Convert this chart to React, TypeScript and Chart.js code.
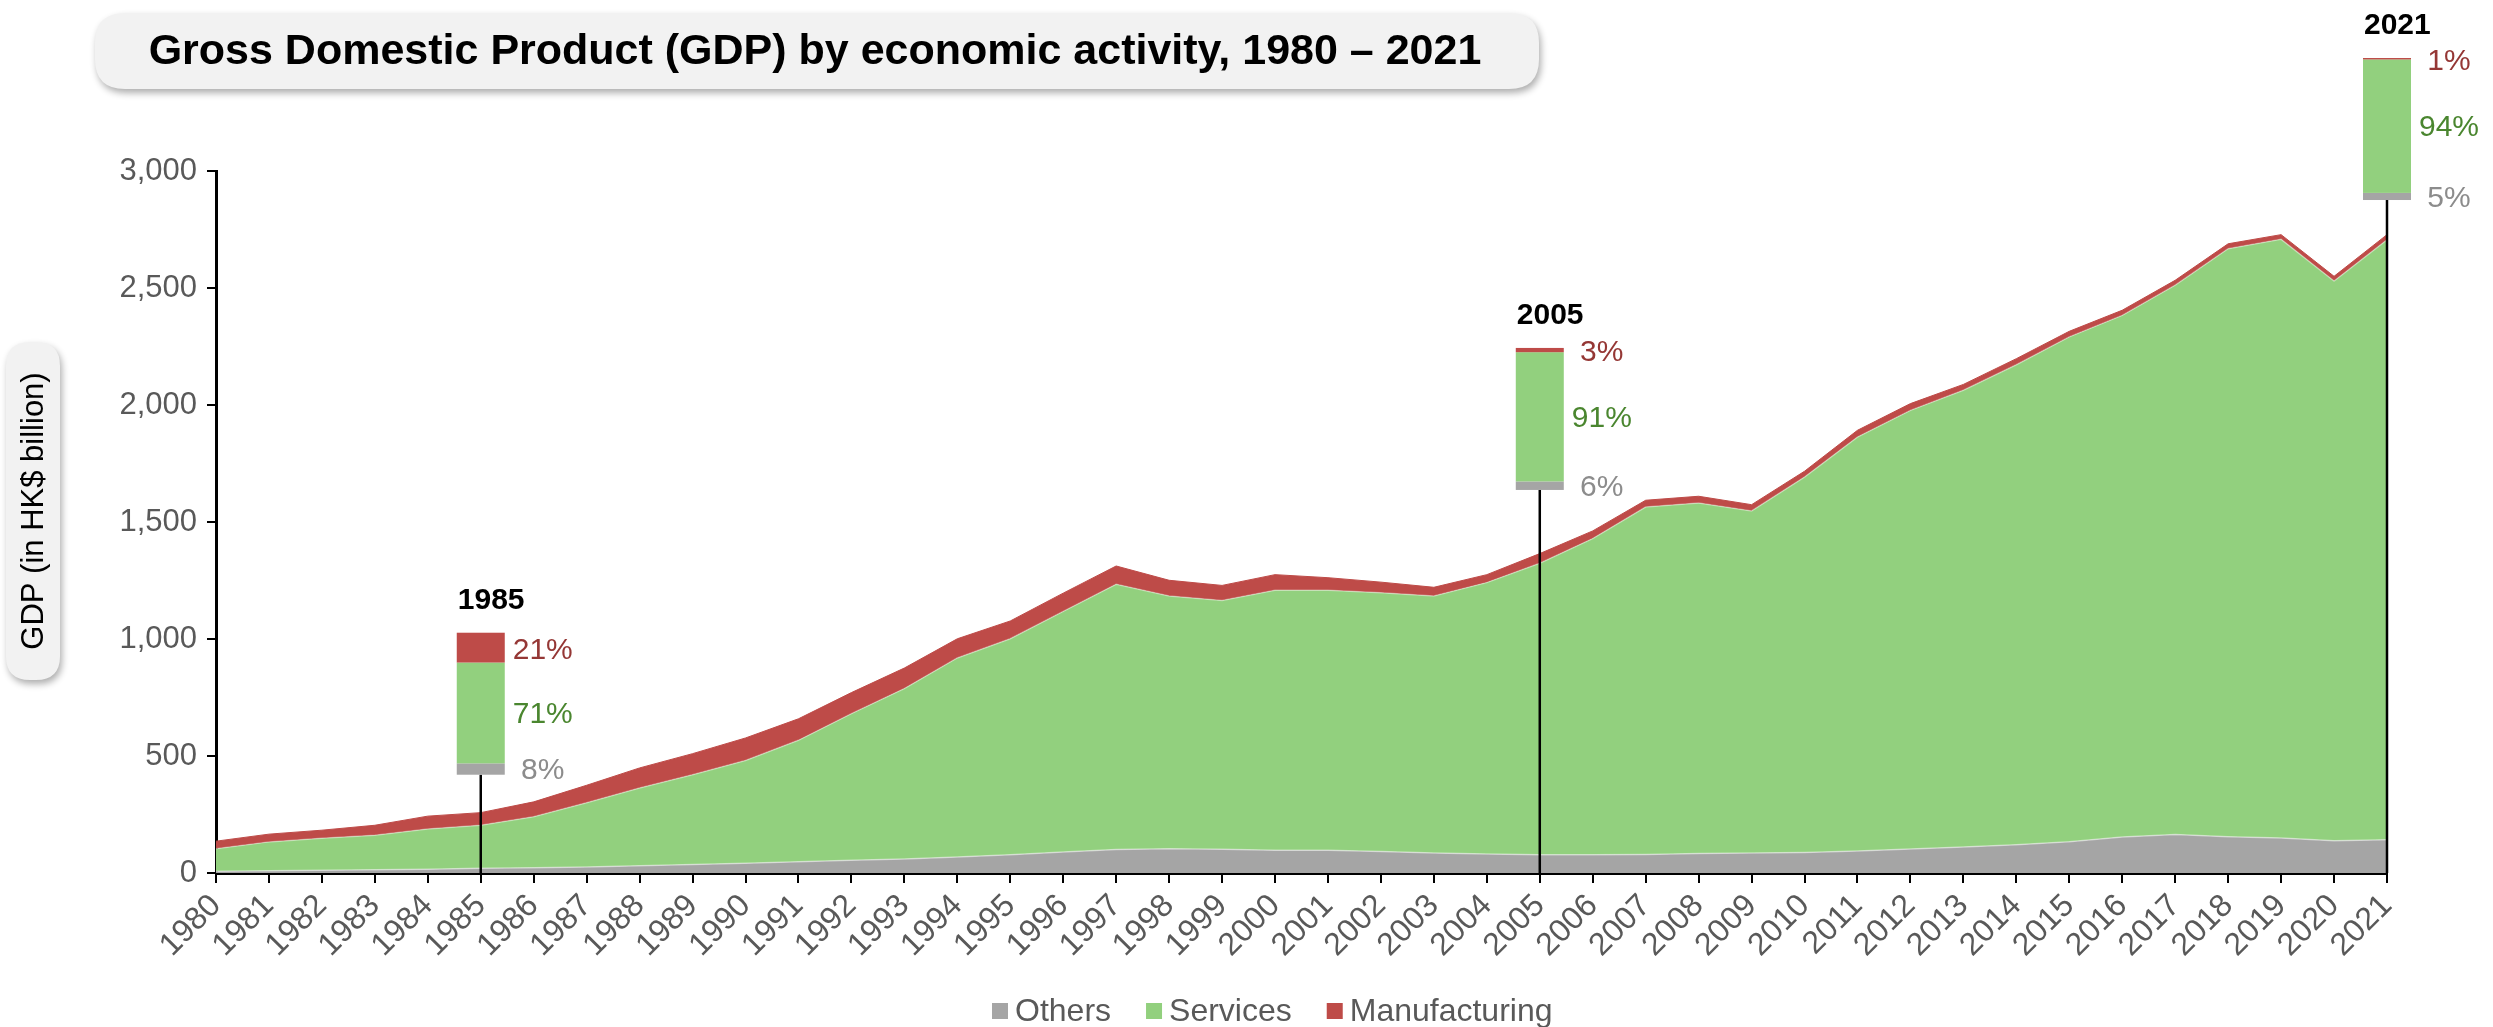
import React, { useEffect, useRef } from 'react';
import { Chart, registerables } from 'chart.js';

Chart.register(...registerables);

const years = [
  '1980', '1981', '1982', '1983', '1984', '1985', '1986', '1987', '1988', '1989',
  '1990', '1991', '1992', '1993', '1994', '1995', '1996', '1997', '1998', '1999',
  '2000', '2001', '2002', '2003', '2004', '2005', '2006', '2007', '2008', '2009',
  '2010', '2011', '2012', '2013', '2014', '2015', '2016', '2017', '2018', '2019',
  '2020', '2021',
];

const others = [
  8, 10, 12, 14, 16, 20, 22, 26, 31, 36,
  42, 48, 54, 60, 68, 78, 90, 100, 104, 101,
  97, 97, 92, 85, 81, 78, 78, 79, 83, 85,
  88, 94, 103, 111, 121, 134, 154, 164, 155, 150,
  138, 142,
];

const services = [
  96, 123, 136, 147, 172, 184, 218, 274, 332, 384,
  439, 519, 627, 728, 851, 923, 1028, 1134, 1080, 1064,
  1111, 1111, 1106, 1099, 1160, 1246, 1351, 1485, 1498, 1462,
  1604, 1769, 1874, 1952, 2051, 2157, 2229, 2348, 2513, 2558,
  2392, 2564,
];

const manufacturing = [
  32, 33, 35, 43, 55, 54, 64, 75, 86, 90,
  96, 92, 90, 88, 82, 76, 78, 78, 67, 64,
  67, 54, 45, 37, 34, 41, 33, 29, 29, 27,
  25, 29, 29, 25, 26, 24, 22, 21, 21, 20,
  20, 22,
];

const yTickValues = [0, 500, 1000, 1500, 2000, 2500, 3000];

const seriesNames = ['Others', 'Services', 'Manufacturing'];

const highlightYears = ['1985', '2005', '2021'];
const highlightManufacturingPct = [21, 3, 1];
const highlightServicesPct = [71, 91, 94];
const highlightOthersPct = [8, 6, 5];
// value (HK$ bn) at which each mini stacked box sits
const highlightBoxBase = [420, 1637, 2876];

const TITLE = 'Gross Domestic Product (GDP) by economic activity, 1980 \u2013 2021';
const Y_TITLE = 'GDP (in HK$ billion)';

const FONT = '"Liberation Sans", Arial, Helvetica, sans-serif';
const GRAY = '#a5a5a5';
const GREEN = '#92d07e';
const RED = '#be4b48';
const TEXT = '#595959';
const SERIES_COLORS = [GRAY, GREEN, RED];

function roundRect(ctx: CanvasRenderingContext2D, x: number, y: number, w: number, h: number, r: number) {
  ctx.beginPath();
  ctx.moveTo(x + r, y);
  ctx.lineTo(x + w - r, y);
  ctx.quadraticCurveTo(x + w, y, x + w, y + r);
  ctx.lineTo(x + w, y + h - r);
  ctx.quadraticCurveTo(x + w, y + h, x + w - r, y + h);
  ctx.lineTo(x + r, y + h);
  ctx.quadraticCurveTo(x, y + h, x, y + h - r);
  ctx.lineTo(x, y + r);
  ctx.quadraticCurveTo(x, y, x + r, y);
  ctx.closePath();
}

const decorPlugin = {
  id: 'decor',
  afterDraw(chart: any) {
    const ctx: CanvasRenderingContext2D = chart.ctx;
    const xs = chart.scales.x;
    const ys = chart.scales.y;

    // Title pill
    ctx.save();
    ctx.shadowColor = 'rgba(0,0,0,0.32)';
    ctx.shadowBlur = 7;
    ctx.shadowOffsetX = 2;
    ctx.shadowOffsetY = 4;
    ctx.fillStyle = '#f2f2f2';
    roundRect(ctx, 95, 13, 1444, 76, 30);
    ctx.fill();
    ctx.restore();
    ctx.save();
    ctx.fillStyle = '#000';
    ctx.font = `bold 43px ${FONT}`;
    ctx.textAlign = 'center';
    ctx.textBaseline = 'middle';
    ctx.fillText(TITLE, 815, 52);
    ctx.restore();

    // Y axis title pill
    ctx.save();
    ctx.shadowColor = 'rgba(0,0,0,0.32)';
    ctx.shadowBlur = 7;
    ctx.shadowOffsetX = 2;
    ctx.shadowOffsetY = 4;
    ctx.fillStyle = '#f2f2f2';
    roundRect(ctx, 6, 342, 54, 338, 24);
    ctx.fill();
    ctx.restore();
    ctx.save();
    ctx.translate(33, 511);
    ctx.rotate(-Math.PI / 2);
    ctx.fillStyle = '#000';
    ctx.font = `31px ${FONT}`;
    ctx.textAlign = 'center';
    ctx.textBaseline = 'middle';
    ctx.fillText(Y_TITLE, 0, 1);
    ctx.restore();

    // Legend
    ctx.save();
    ctx.font = `32px ${FONT}`;
    ctx.textBaseline = 'middle';
    ctx.textAlign = 'left';
    let lx = 992;
    const ly = 1011;
    seriesNames.forEach((name, i) => {
      ctx.fillStyle = SERIES_COLORS[i];
      ctx.fillRect(lx, ly - 8, 16, 16);
      ctx.fillStyle = TEXT;
      ctx.fillText(name, lx + 23, ly + 1);
      lx += 23 + ctx.measureText(name).width + 35;
    });
    ctx.restore();

    // Highlight boxes
    const H = 142;
    const W = 48;
    highlightYears.forEach((yr, i) => {
      const idx = years.indexOf(yr);
      const cx = xs.getPixelForValue(idx);
      const bottom = ys.getPixelForValue(highlightBoxBase[i]);
      const top = bottom - H;
      const left = cx - W / 2;

      ctx.save();
      ctx.strokeStyle = '#000';
      ctx.lineWidth = 2.5;
      ctx.beginPath();
      ctx.moveTo(cx, bottom);
      ctx.lineTo(cx, ys.bottom);
      ctx.stroke();

      const total = highlightOthersPct[i] + highlightServicesPct[i] + highlightManufacturingPct[i];
      const hO = (H * highlightOthersPct[i]) / total;
      const hS = (H * highlightServicesPct[i]) / total;
      const hM = H - hO - hS;

      ctx.fillStyle = GRAY;
      ctx.fillRect(left, bottom - hO, W, hO);
      ctx.fillStyle = GREEN;
      ctx.fillRect(left, bottom - hO - hS, W, hS);
      ctx.fillStyle = RED;
      ctx.fillRect(left, top, W, hM);

      ctx.font = `30px ${FONT}`;
      ctx.textAlign = 'center';
      ctx.textBaseline = 'middle';
      const tx = cx + 62;
      ctx.fillStyle = '#953735';
      ctx.fillText(`${highlightManufacturingPct[i]}%`, tx, top + hM / 2 + 3);
      ctx.fillStyle = '#4a862f';
      ctx.fillText(`${highlightServicesPct[i]}%`, tx, bottom - hO - hS / 2 + 2);
      ctx.fillStyle = '#8c8c8c';
      ctx.fillText(`${highlightOthersPct[i]}%`, tx, bottom - hO / 2 + 2);

      ctx.fillStyle = '#000';
      ctx.font = `bold 30px ${FONT}`;
      ctx.textAlign = 'left';
      ctx.textBaseline = 'middle';
      ctx.fillText(yr, left + 1, top - 32);
      ctx.restore();
    });
  },
};

export default function App() {
  const ref = useRef<HTMLCanvasElement>(null);

  useEffect(() => {
    if (!ref.current) return;
    Chart.defaults.font.family = FONT;
    const chart = new Chart(ref.current, {
      type: 'line',
      data: {
        labels: years,
        datasets: [
          {
            label: seriesNames[0],
            data: others,
            backgroundColor: GRAY,
            borderColor: 'rgba(255,255,255,0.45)',
            borderWidth: 1.5,
            fill: 'origin',
            pointRadius: 0,
            tension: 0,
          },
          {
            label: seriesNames[1],
            data: services,
            backgroundColor: GREEN,
            borderColor: 'rgba(255,255,255,0.35)',
            borderWidth: 1.5,
            fill: '-1',
            pointRadius: 0,
            tension: 0,
          },
          {
            label: seriesNames[2],
            data: manufacturing,
            backgroundColor: RED,
            borderColor: RED,
            borderWidth: 1,
            fill: '-1',
            pointRadius: 0,
            tension: 0,
          },
        ],
      },
      options: {
        responsive: false,
        animation: false,
        devicePixelRatio: 1,
        layout: { padding: { left: 0, right: 106, top: 171, bottom: 41 } },
        plugins: {
          title: { display: false },
          tooltip: { enabled: false },
          legend: { display: false },
        },
        scales: {
          x: {
            type: 'category',
            offset: false,
            afterFit: (scale: any) => {
              scale.height = 113;
            },
            grid: {
              display: true,
              drawOnChartArea: false,
              drawTicks: true,
              tickLength: 10,
              color: '#000',
              lineWidth: 2,
            },
            border: { display: true, color: '#000', width: 3 },
            ticks: {
              autoSkip: false,
              minRotation: 45,
              maxRotation: 45,
              padding: 4,
              color: TEXT,
              font: { size: 32, family: FONT },
            },
          },
          y: {
            stacked: true,
            min: 0,
            max: 3000,
            afterFit: (scale: any) => {
              scale.width = 216;
            },
            afterBuildTicks: (scale: any) => {
              scale.ticks = yTickValues.map((v) => ({ value: v }));
            },
            grid: {
              display: true,
              drawOnChartArea: false,
              drawTicks: true,
              tickLength: 9,
              color: '#000',
              lineWidth: 2,
            },
            border: { display: true, color: '#000', width: 3 },
            ticks: {
              padding: 10,
              color: TEXT,
              font: { size: 31, family: FONT },
              callback: (v: any) => Number(v).toLocaleString('en-US'),
            },
          },
        },
      },
      plugins: [decorPlugin],
    } as any);
    return () => chart.destroy();
  }, []);

  return (
    <div
      style={{
        position: 'fixed',
        left: 0,
        top: 0,
        width: 2493,
        height: 1027,
        overflow: 'hidden',
        background: '#fff',
      }}
    >
      <canvas ref={ref} width={2493} height={1027} style={{ display: 'block', width: 2493, height: 1027 }} />
    </div>
  );
}
